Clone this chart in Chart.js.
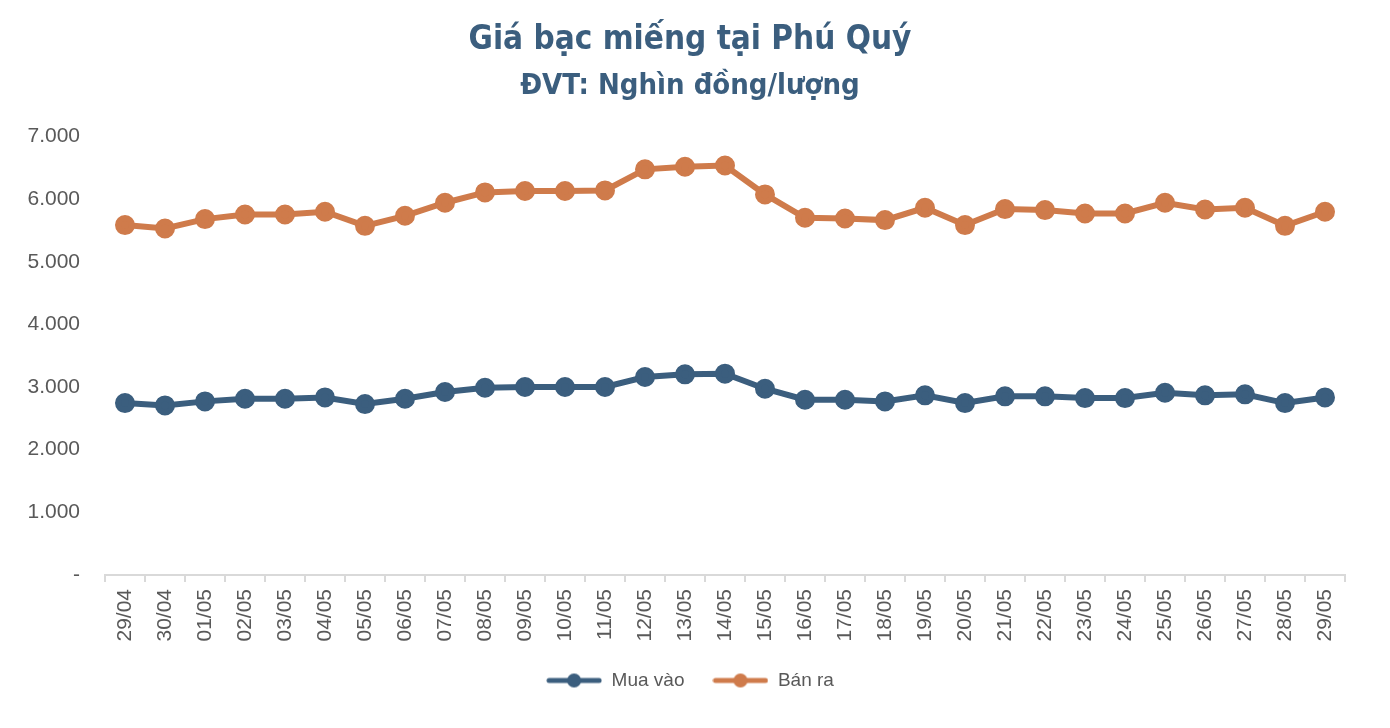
<!DOCTYPE html>
<html>
<head>
<meta charset="utf-8">
<script src="https://cdn.jsdelivr.net/npm/chart.js@4"></script>
<style>
  html, body { margin: 0; padding: 0; background: #fff; }
  #wrap { width: 1390px; height: 728px; }
</style>
</head>
<body>
<div id="wrap"><canvas id="price-chart"></canvas></div>
<script>
  // ngày
  const labels = ["29/04", "30/04", "01/05", "02/05", "03/05", "04/05", "05/05", "06/05", "07/05", "08/05",
    "09/05", "10/05", "11/05", "12/05", "13/05", "14/05", "15/05", "16/05", "17/05", "18/05",
    "19/05", "20/05", "21/05", "22/05", "23/05", "24/05", "25/05", "26/05", "27/05", "28/05", "29/05"];

  // Mua vào
  const muaVao = [2744, 2707, 2771, 2813, 2813, 2834, 2728, 2813, 2920, 2989,
    3000, 3000, 3000, 3160, 3203, 3213, 2973, 2797, 2797, 2771,
    2867, 2744, 2851, 2851, 2824, 2824, 2909, 2867, 2883, 2744, 2834];

  // Bán ra
  const banRa = [5585, 5530, 5680, 5754, 5754, 5797, 5573, 5733, 5941, 6106,
    6128, 6128, 6138, 6474, 6516, 6535, 6074, 5701, 5690, 5664,
    5861, 5585, 5840, 5824, 5770, 5770, 5941, 5834, 5861, 5573, 5797];

  const yTicks = [0, 1000, 2000, 3000, 4000, 5000, 6000, 7000];

  const blue = "#3b5e7e";
  const orange = "#cf7b4b";
  const grey = "#595959";
  const titleFont = "'Liberation Sans Narrow', 'DejaVu Sans Condensed', sans-serif";

  // icon cho legend: đoạn thẳng + chấm tròn
  function legendIcon(color) {
    let c = document.createElement("canvas");
    c.width = 56;
    c.height = 16;
    let g = c.getContext("2d");
    g.strokeStyle = color;
    g.lineWidth = 5;
    g.lineCap = "round";
    g.beginPath();
    g.moveTo(3, 8);
    g.lineTo(53, 8);
    g.stroke();
    g.fillStyle = color;
    g.beginPath();
    g.arc(28, 8, 7, 0, Math.PI * 2);
    g.fill();
    return c;
  }

  const icons = [legendIcon(blue), legendIcon(orange)];
  const fmt = v => v === 0 ? "-" : v.toLocaleString("de-DE");

  let ctx = document.getElementById("price-chart").getContext("2d");

  new Chart(ctx, {
    type: "line",
    data: {
      labels: labels,
      datasets: [
        {
          label: "Mua vào",
          data: muaVao,
          borderColor: blue,
          backgroundColor: blue,
          borderWidth: 6,
          pointRadius: 7,
          pointHoverRadius: 7
        },
        {
          label: "Bán ra",
          data: banRa,
          borderColor: orange,
          backgroundColor: orange,
          borderWidth: 6,
          pointRadius: 7,
          pointHoverRadius: 7
        }
      ]
    },
    options: {
      responsive: true,
      maintainAspectRatio: false,
      animation: false,
      layout: { padding: { left: 0, right: 10, top: 0, bottom: 28 } },
      elements: {
        line: { tension: 0 }
      },
      plugins: {
        title: {
          display: true,
          text: "Giá bạc miếng tại Phú Quý",
          color: blue,
          font: { family: titleFont, size: 33, weight: "bold" },
          padding: { top: 21, bottom: 2 }
        },
        subtitle: {
          display: true,
          text: "ĐVT: Nghìn đồng/lượng",
          color: blue,
          font: { family: titleFont, size: 29, weight: "bold" },
          padding: { top: 6, bottom: 33 }
        },
        legend: {
          position: "bottom",
          labels: {
            usePointStyle: true,
            pointStyleWidth: 56,
            color: grey,
            font: { family: "'Liberation Sans', sans-serif", size: 19 },
            padding: 28,
            generateLabels: chart => chart.data.datasets.map((ds, i) => ({
              text: ds.label,
              fontColor: grey,
              pointStyle: icons[i],
              datasetIndex: i,
              hidden: false,
              lineWidth: 0
            }))
          }
        },
        tooltip: { enabled: false }
      },
      scales: {
        x: {
          offset: true,
          grid: {
            offset: true,
            drawOnChartArea: false,
            drawTicks: true,
            tickLength: 7,
            color: "#d9d9d9",
            lineWidth: 2
          },
          border: { display: true, color: "#d9d9d9", width: 2 },
          ticks: {
            color: grey,
            font: { family: "'Liberation Sans', sans-serif", size: 21 },
            maxRotation: 90,
            minRotation: 90,
            autoSkip: false,
            padding: 7
          },
          afterFit: scale => { scale.height = 68; }
        },
        y: {
          min: 0,
          max: 7000,
          grid: { display: false, drawTicks: false },
          border: { display: false },
          afterBuildTicks: scale => { scale.ticks = yTicks.map(v => ({ value: v })); },
          ticks: {
            color: grey,
            font: { family: "'Liberation Sans', sans-serif", size: 21 },
            padding: 25,
            callback: v => fmt(v)
          },
          afterFit: scale => { scale.width = 105; }
        },
        // trục ẩn bên phải chỉ để giữ lề
        yRight: {
          position: "right",
          grid: { display: false, drawTicks: false },
          border: { display: false },
          ticks: { display: false },
          afterFit: scale => { scale.width = 35; }
        }
      }
    }
  });
</script>
</body>
</html>
